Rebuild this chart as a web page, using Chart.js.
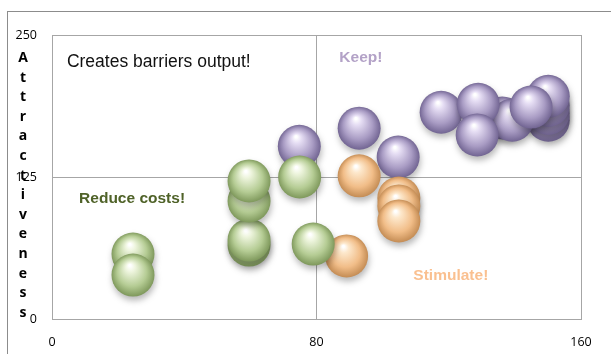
<!DOCTYPE html>
<html>
<head>
<meta charset="utf-8">
<script src="https://cdn.jsdelivr.net/npm/chart.js@4"></script>
<style>
  html, body { margin: 0; padding: 0; background: #fff; }
  #chartContainer { width: 611px; height: 354px; position: relative; }
</style>
</head>
<body>
<div id="chartContainer"><canvas id="chart"></canvas></div>
<script>
// bubble positions
const greenX = [24.5, 24.5, 59.6, 59.6, 59.6, 59.6, 74.9, 79];
const greenY = [57.2, 38.7, 65.1, 69.5, 103.9, 121.5, 125, 66];

const orangeX = [92.9, 89.1, 104.9, 104.9, 104.9];
const orangeY = [126, 55.5, 106.5, 99.5, 86.3];

const purpleX = [74.8, 92.9, 104.7, 150.1, 150.1, 150.1, 150.1, 136.2, 139.2, 117.7, 128.9, 128.6, 144.9];
const purpleY = [152, 168, 142.6, 175, 181, 188, 196, 177, 175, 182, 189, 162, 186.6];

const xTicks = [0, 80, 160];
const yTicks = [0, 125, 250];
const yTitle = 'Attractiveness';
const quadrantLabels = ['Creates barriers output!', 'Keep!', 'Reduce costs!', 'Stimulate!'];

const bubbleSize = 21.5;

const toPoints = (xs, ys) => xs.map((x, i) => ({ x: x, y: ys[i], r: bubbleSize }));

const sphere = (light, mid, dark) => (ctx) => {
  const chart = ctx.chart;
  const raw = ctx.raw;
  if (!raw || !chart.scales.x || !chart.scales.y) return mid;
  const x = chart.scales.x.getPixelForValue(raw.x);
  const y = chart.scales.y.getPixelForValue(raw.y);
  const r = raw.r;
  if (!Number.isFinite(x) || !Number.isFinite(y)) return mid;
  const g = chart.ctx.createRadialGradient(x - r * 0.15, y - r * 0.45, r * 0.05, x, y, r * 1.02);
  g.addColorStop(0, '#ffffff');
  g.addColorStop(0.18, light);
  g.addColorStop(0.65, mid);
  g.addColorStop(1, dark);
  return g;
};

const frame = {
  id: 'frame',
  beforeDraw: (chart) => {
    const c = chart.ctx;
    c.save();
    c.strokeStyle = '#8c8c8c';
    c.lineWidth = 1;
    c.strokeRect(7.5, 11.5, 620, 360);
    c.restore();
  },
  beforeDatasetsDraw: (chart) => {
    const c = chart.ctx;
    c.save();
    c.shadowColor = 'rgba(0,0,0,0.28)';
    c.shadowBlur = 6;
    c.shadowOffsetX = 1;
    c.shadowOffsetY = 4;
  },
  afterDatasetsDraw: (chart) => {
    const c = chart.ctx;
    c.restore();
    const sx = chart.scales.x;
    const sy = chart.scales.y;
    c.save();
    c.textBaseline = 'middle';
    c.textAlign = 'left';
    c.fillStyle = '#111';
    c.font = '17.5px "Liberation Sans", Arial, sans-serif';
    c.fillText(quadrantLabels[0], sx.getPixelForValue(4.5), sy.getPixelForValue(226));
    c.fillStyle = '#b3a2c7';
    c.font = 'bold 15.5px "Liberation Sans", Arial, sans-serif';
    c.fillText(quadrantLabels[1], sx.getPixelForValue(86.9), sy.getPixelForValue(229.7));
    c.fillStyle = '#4f6228';
    c.font = 'bold 15.5px "Liberation Sans", Arial, sans-serif';
    c.fillText(quadrantLabels[2], sx.getPixelForValue(8.2), sy.getPixelForValue(105.6));
    c.fillStyle = '#fac090';
    c.font = 'bold 15.5px "Liberation Sans", Arial, sans-serif';
    c.fillText(quadrantLabels[3], sx.getPixelForValue(109.3), sy.getPixelForValue(37.9));

    // y title, one letter under the other
    c.fillStyle = '#000';
    c.textAlign = 'center';
    c.font = 'bold 14px "Open Sans", sans-serif';
    yTitle.split('').forEach((ch, i) => {
      c.fillText(ch, 23, 58 + i * 19.6);
    });
    c.restore();
  },
};

new Chart('chart', {
  type: 'bubble',
  data: {
    datasets: [
      {
        label: 'Reduce costs',
        data: toPoints(greenX, greenY),
        backgroundColor: sphere('#eef5de', '#b5cc94', '#7c9659'),
        borderWidth: 0,
      },
      {
        label: 'Stimulate',
        data: toPoints(orangeX, orangeY),
        backgroundColor: sphere('#fde8cc', '#f1bd88', '#c28a52'),
        borderWidth: 0,
      },
      {
        label: 'Keep',
        data: toPoints(purpleX, purpleY),
        backgroundColor: sphere('#e6def4', '#a99cc4', '#6f6290'),
        borderWidth: 0,
      },
    ],
  },
  options: {
    responsive: true,
    maintainAspectRatio: false,
    animation: false,
    events: [],
    layout: { padding: { left: 0, top: 35, right: 30, bottom: 0 } },
    plugins: {
      legend: { display: false },
      tooltip: { enabled: false },
    },
    scales: {
      x: {
        min: 0,
        max: 160,
        afterBuildTicks: (s) => { s.ticks = xTicks.map((v) => ({ value: v })); },
        afterFit: (s) => { s.height = 35; },
        grid: { color: '#a6a6a6', drawTicks: false },
        border: { color: '#a6a6a6' },
        ticks: { padding: 16, color: '#000', font: { size: 12.5, family: '"Open Sans", sans-serif' } },
      },
      y: {
        min: 0,
        max: 250,
        afterBuildTicks: (s) => { s.ticks = yTicks.map((v) => ({ value: v })); },
        afterFit: (s) => { s.width = 52; },
        grid: { color: '#a6a6a6', drawTicks: false },
        border: { color: '#a6a6a6' },
        ticks: { padding: 15, color: '#000', font: { size: 12.5, family: '"Open Sans", sans-serif' } },
      },
    },
  },
  plugins: [frame],
});
</script>
</body>
</html>
